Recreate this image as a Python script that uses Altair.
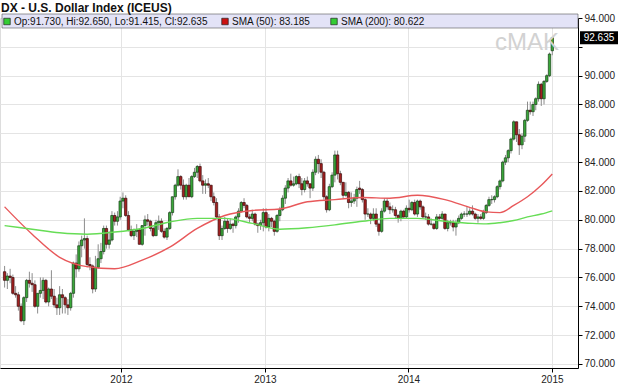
import altair as alt
import pandas as pd

# ---------------- data (weekly DX candles) ----------------
first_week = "2011-03-11"

opens_2011 = [76.4, 75.8, 76.1, 76.0, 74.9, 74.8, 74.0, 73.0, 74.6, 75.8,
              75.6, 75.5, 74.0, 74.9, 75.1, 75.8, 74.3, 75.2, 74.7, 74.1,
              73.9, 74.8, 74.6, 74.1, 73.9, 74.9, 77.0, 76.6, 78.2, 78.6,
              78.7, 76.9, 76.8, 75.2, 76.7, 77.3, 77.8, 79.4, 78.3, 78.6,
              80.3, 79.9]
highs_2011 = [76.8, 76.3, 76.6, 76.2, 75.4, 75.0, 74.2, 74.7, 75.9, 76.4,
              76.3, 75.8, 74.9, 76.0, 76.0, 75.9, 75.3, 76.5, 75.2, 74.6,
              75.4, 75.2, 74.7, 74.5, 75.0, 77.1, 77.6, 78.5, 78.9, 80.1,
              78.9, 77.4, 76.9, 77.5, 78.3, 78.4, 79.6, 79.6, 79.2, 80.6,
              80.5, 80.6]
lows_2011 = [75.3, 75.2, 75.6, 74.8, 74.6, 73.7, 72.9, 72.7, 74.3, 75.3,
             75.0, 73.9, 73.5, 74.6, 74.5, 74.2, 74.0, 74.5, 73.9, 73.4,
             73.4, 73.5, 73.5, 73.4, 73.7, 74.6, 76.0, 76.4, 77.4, 78.0,
             76.7, 76.5, 74.9, 75.0, 76.6, 77.0, 77.6, 78.0, 78.0, 78.5,
             79.6, 79.6]
closes_2011 = [75.8, 76.1, 76.0, 74.9, 74.8, 74.0, 73.0, 74.6, 75.8, 75.6,
               75.5, 74.0, 74.9, 75.1, 75.8, 74.3, 75.2, 74.7, 74.1, 73.9,
               74.8, 74.6, 74.1, 73.9, 74.9, 77.0, 76.6, 78.2, 78.6, 78.7,
               76.9, 76.8, 75.2, 76.7, 77.3, 77.8, 79.4, 78.3, 78.6, 80.3,
               79.9, 80.2]

opens_2012 = [80.2, 81.3, 81.5, 80.3, 79.3, 78.9, 79.2, 79.3, 78.3, 79.6,
              80.0, 79.9, 79.4, 78.9, 79.8, 79.9, 79.2, 78.8, 79.4, 80.5,
              81.6, 82.4, 83.0, 82.4, 81.6, 82.4, 81.6, 83.0, 83.3, 83.7,
              82.7, 82.4, 82.5, 82.4, 81.6, 81.2, 80.2, 78.9, 79.4, 79.9,
              79.4, 79.7, 79.6, 80.2, 80.6, 81.2, 81.0, 80.2, 80.1, 80.4,
              79.7, 79.6]
highs_2012 = [81.6, 81.9, 81.7, 80.6, 79.6, 79.4, 79.7, 79.4, 79.6, 80.3,
              80.4, 80.0, 79.5, 80.0, 80.3, 80.1, 79.4, 79.5, 80.6, 81.6,
              82.5, 83.5, 83.1, 82.8, 82.5, 82.9, 83.1, 83.6, 83.8, 83.9,
              83.1, 82.8, 82.9, 82.4, 81.9, 81.5, 80.4, 79.6, 80.2, 80.1,
              80.1, 79.8, 80.3, 80.8, 81.3, 81.5, 81.1, 80.4, 80.7, 80.5,
              79.8, 80.0]
lows_2012 = [80.0, 80.8, 80.2, 79.2, 78.8, 78.6, 78.8, 78.3, 78.2, 78.9,
             79.6, 79.2, 78.8, 78.9, 79.3, 79.1, 78.7, 78.6, 79.3, 80.3,
             81.4, 82.3, 82.1, 81.4, 81.4, 81.6, 81.5, 82.9, 82.9, 82.6,
             81.8, 81.8, 82.2, 81.3, 81.0, 80.1, 78.6, 78.6, 79.3, 79.1,
             79.3, 79.1, 79.4, 79.8, 80.5, 80.8, 80.1, 79.8, 79.9, 79.6,
             79.1, 79.3]
closes_2012 = [81.3, 81.5, 80.3, 79.3, 78.9, 79.2, 79.3, 78.3, 79.6, 80.0,
               79.9, 79.4, 78.9, 79.8, 79.9, 79.2, 78.8, 79.4, 80.5, 81.6,
               82.4, 83.0, 82.4, 81.6, 82.4, 81.6, 83.0, 83.3, 83.7, 82.7,
               82.4, 82.5, 82.4, 81.6, 81.2, 80.2, 78.9, 79.4, 79.9, 79.4,
               79.7, 79.6, 80.2, 80.6, 81.2, 81.0, 80.2, 80.1, 80.4, 79.7,
               79.6, 79.8]

opens_2013 = [79.8, 80.5, 79.5, 80.1, 79.9, 79.2, 80.3, 80.7, 81.5, 82.2,
              82.7, 82.4, 82.5, 83.0, 82.5, 82.1, 82.7, 82.5, 82.2, 83.3,
              84.2, 83.9, 83.3, 81.6, 80.7, 82.3, 83.1, 84.5, 83.2, 82.6,
              81.7, 81.9, 81.2, 81.3, 81.5, 82.2, 82.1, 81.4, 80.4, 80.4,
              80.1, 80.4, 79.7, 79.2, 80.6, 81.3, 80.9, 80.7, 80.7, 80.3,
              80.1, 80.6]
highs_2013 = [80.8, 80.8, 80.4, 80.2, 80.0, 80.4, 80.9, 81.7, 82.4, 82.9,
              83.2, 83.0, 83.1, 83.2, 82.9, 82.9, 83.0, 82.5, 83.5, 84.4,
              84.5, 84.2, 83.4, 81.7, 82.5, 83.3, 84.8, 84.8, 83.4, 82.6,
              82.6, 82.0, 81.9, 81.8, 82.3, 82.7, 82.2, 81.5, 80.8, 80.5,
              80.8, 80.8, 79.8, 80.8, 81.5, 81.5, 81.2, 81.0, 80.9, 80.4,
              80.7, 80.7]
lows_2013 = [79.2, 79.4, 79.2, 79.5, 78.9, 79.1, 79.9, 80.6, 81.1, 81.9,
             82.3, 82.3, 82.4, 82.2, 81.7, 81.9, 82.3, 81.5, 82.0, 83.1,
             83.2, 82.9, 81.4, 80.5, 80.6, 82.2, 82.6, 82.8, 82.4, 81.5,
             81.6, 80.8, 80.9, 81.1, 80.9, 81.8, 81.2, 80.0, 80.2, 79.7,
             79.9, 79.5, 78.9, 79.1, 80.5, 80.7, 80.4, 80.5, 80.1, 79.8,
             79.9, 80.1]
closes_2013 = [80.5, 79.5, 80.1, 79.9, 79.2, 80.3, 80.7, 81.5, 82.2, 82.7,
               82.4, 82.5, 83.0, 82.5, 82.1, 82.7, 82.5, 82.2, 83.3, 84.2,
               83.9, 83.3, 81.6, 80.7, 82.3, 83.1, 84.5, 83.2, 82.6, 81.7,
               81.9, 81.2, 81.3, 81.5, 82.1, 82.1, 81.4, 80.4, 80.4, 80.1,
               80.4, 79.7, 79.2, 80.6, 81.3, 80.9, 80.7, 80.7, 80.3, 80.1,
               80.6, 80.2]

opens_2014 = [80.2, 80.8, 80.7, 81.2, 80.4, 81.3, 80.9, 80.2, 80.2, 79.7,
              79.7, 79.4, 80.2, 80.1, 80.4, 79.4, 79.8, 79.8, 79.5, 79.8,
              80.1, 80.4, 80.4, 80.4, 80.6, 80.4, 80.1, 80.2, 80.1, 80.5,
              81.0, 81.4, 81.4, 81.6, 82.3, 82.7, 84.0, 84.3, 84.8, 85.6,
              86.8, 85.9, 85.2, 85.8, 86.9, 87.6, 87.5, 88.0, 88.4, 89.4,
              88.4, 89.6, 90.0, 91.73]
highs_2014 = [81.0, 81.4, 81.3, 81.4, 81.4, 81.4, 81.0, 80.5, 80.4, 80.1,
              79.8, 80.4, 80.4, 80.6, 80.4, 80.0, 80.0, 80.0, 80.0, 80.3,
              80.5, 80.6, 80.9, 80.8, 81.0, 80.5, 80.4, 80.4, 80.7, 81.1,
              81.6, 81.7, 81.7, 82.4, 82.8, 84.1, 84.5, 84.9, 85.7, 86.9,
              86.8, 86.3, 86.0, 87.0, 88.2, 88.2, 88.2, 88.5, 89.6, 89.5,
              89.7, 90.1, 91.6, 92.65]
lows_2014 = [80.1, 80.5, 80.6, 80.3, 80.2, 80.7, 80.1, 80.0, 79.6, 79.6,
             79.3, 79.3, 80.0, 80.0, 79.3, 79.2, 79.6, 79.2, 78.9, 79.7,
             80.0, 80.2, 80.2, 80.3, 80.3, 80.0, 79.8, 80.0, 80.0, 80.4,
             80.9, 81.1, 81.2, 81.5, 82.1, 82.6, 83.8, 84.0, 84.6, 85.5,
             85.4, 84.5, 84.9, 85.4, 86.8, 87.3, 87.2, 87.6, 88.2, 87.9,
             88.0, 89.5, 89.9, 91.415]
closes_2014 = [80.8, 80.7, 81.2, 80.4, 81.3, 80.9, 80.2, 80.2, 79.7, 79.7,
               79.4, 80.2, 80.1, 80.4, 79.4, 79.8, 79.8, 79.5, 79.8, 80.1,
               80.4, 80.4, 80.4, 80.6, 80.4, 80.1, 80.2, 80.1, 80.5, 81.0,
               81.4, 81.4, 81.6, 82.3, 82.7, 84.0, 84.3, 84.8, 85.6, 86.8,
               85.9, 85.2, 85.8, 86.9, 87.6, 87.5, 88.0, 88.4, 89.4, 88.4,
               89.6, 90.0, 91.5, 92.635]

# moving averages, read at selected candle positions
sma_idx = [0, 10, 20, 30, 40, 50, 60, 70, 80, 90, 100, 110, 120, 130, 140,
           150, 160, 170, 175, 180, 185, 190, 195, 199]
sma50 = [80.9, 79.0, 77.4, 76.75, 76.6, 77.2, 78.1, 79.4, 80.3, 80.65, 80.75,
         81.25, 81.4, 81.55, 81.5, 81.7, 81.4, 80.8, 80.55, 80.5, 81.0, 81.6,
         82.4, 83.185]
sma200 = [79.6, 79.35, 79.1, 79.0, 79.15, 79.4, 79.85, 80.1, 80.1, 79.75, 79.35,
          79.45, 79.65, 79.9, 80.1, 80.1, 79.9, 79.75, 79.72, 79.8, 79.95, 80.2,
          80.4, 80.622]

year_ticks = [2012, 2013, 2014, 2015]
price_ticks = [70, 72, 74, 76, 78, 80, 82, 84, 86, 88, 90, 92, 94]
hidden_price_label = 92   # covered by the last-price tag in the original

# ---------------- build tables ----------------
opens = opens_2011 + opens_2012 + opens_2013 + opens_2014
highs = highs_2011 + highs_2012 + highs_2013 + highs_2014
lows = lows_2011 + lows_2012 + lows_2013 + lows_2014
closes = closes_2011 + closes_2012 + closes_2013 + closes_2014
dates = pd.date_range(first_week, periods=len(closes), freq="7D").strftime("%Y-%m-%d").tolist()

df = pd.DataFrame({"date": dates, "open": opens, "high": highs, "low": lows, "close": closes})
df["dir"] = ["up" if c >= o else "down" for o, c in zip(df["open"], df["close"])]

sma_rows = []
for i, a, b in zip(sma_idx, sma50, sma200):
    sma_rows.append({"date": dates[i], "value": a, "series": "SMA50"})
    sma_rows.append({"date": dates[i], "value": b, "series": "SMA200"})
df_sma = pd.DataFrame(sma_rows)

FONT = "Liberation Sans"
W, H = 578, 350

xscale = alt.Scale(type="utc", domain=[alt.DateTime(year=2011, month=3, date=12, utc=True),
                                       alt.DateTime(year=2015, month=2, date=23, hours=17, utc=True)])
yscale = alt.Scale(domain=[69.72, 94], nice=False, zero=False)

xaxis = alt.Axis(values=[alt.DateTime(year=y, month=1, date=1, utc=True) for y in year_ticks],
                 format="%Y", formatType="utc", title=None, grid=True, gridColor="#e4e4e4",
                 tickSize=4, tickColor="#000", domainColor="#000", labelFontSize=10,
                 labelColor="#222", labelPadding=2, labelOverlap=False)
yaxis = alt.Axis(orient="right", values=price_ticks, tickCount=len(price_ticks),
                 labelExpr=f"datum.value == {hidden_price_label} ? '' : format(datum.value, '.3f')",
                 title=None, grid=True, gridColor="#e4e4e4", tickSize=4, tickColor="#000",
                 domainColor="#000", labelFontSize=10, labelColor="#222", labelPadding=2,
                 labelOverlap=False, labelBound=False, labelFlush=False)

X = alt.X("date:T", scale=xscale, axis=xaxis)

base = alt.Chart(df)
wicks = base.mark_rule(color="#8c8c8c", strokeWidth=1, clip=True).encode(
    x=X, y=alt.Y("low:Q", scale=yscale, axis=yaxis), y2="high:Q")
bodies = base.mark_bar(size=2.4, strokeWidth=0.7, clip=True).encode(
    x=X,
    y=alt.Y("open:Q", scale=yscale, axis=yaxis),
    y2="close:Q",
    fill=alt.Fill("dir:N", scale=alt.Scale(domain=["up", "down"], range=["#3aa83a", "#a32020"]), legend=None),
    stroke=alt.Stroke("dir:N", scale=alt.Scale(domain=["up", "down"], range=["#163d16", "#3a0a0a"]), legend=None),
)
lines = alt.Chart(df_sma).mark_line(interpolate="monotone", strokeWidth=1.4, clip=True).encode(
    x=X,
    y=alt.Y("value:Q", scale=yscale, axis=yaxis),
    color=alt.Color("series:N", scale=alt.Scale(domain=["SMA50", "SMA200"], range=["#e8585a", "#66dd55"]), legend=None),
)

one = pd.DataFrame({"a": [0]})

# header strip with values
strip = alt.Chart(one).mark_rect(fill="#e3e3f7", stroke="#555", strokeWidth=0.6).encode(
    x=alt.value(2), x2=alt.value(W), y=alt.value(-4), y2=alt.value(10))

legend_df = pd.DataFrame({
    "sx": [7, 225, 334],
    "tx": [14, 232, 341],
    "col": ["#33cc33", "#cc1111", "#33cc33"],
    "txt": [f"Op:{opens[-1]:.3f}, Hi:{highs[-1]:.3f}, Lo:{lows[-1]:.3f}, Cl:{closes[-1]:.3f}",
            f"SMA (50): {sma50[-1]:.3f}", f"SMA (200): {sma200[-1]:.3f}"],
})
squares = alt.Chart(legend_df).mark_square(size=42, opacity=1, stroke="#222", strokeWidth=0.7).encode(
    x=alt.X("sx:Q", scale=None), y=alt.value(3.5), fill=alt.Fill("col:N", scale=None))
legend_txt = alt.Chart(legend_df).mark_text(align="left", baseline="middle", fontSize=10,
                                             font=FONT, color="#111").encode(
    x=alt.X("tx:Q", scale=None), y=alt.value(4), text="txt:N")

title = alt.Chart(one).mark_text(text="DX - U.S. Dollar Index (ICEUS)", align="left",
                                 baseline="alphabetic", fontSize=12, fontWeight="bold",
                                 font=FONT, color="#111").encode(x=alt.value(1), y=alt.value(-6))

watermark = alt.Chart(one).mark_text(text="cMAK", align="center", baseline="alphabetic",
                                     fontSize=24, font=FONT, color="#d2d2d2").encode(
    x=alt.value(527), y=alt.value(32))

tag_df = pd.DataFrame({"v": [closes[-1]], "label": [f"{closes[-1]:.3f}"]})
tag_box = alt.Chart(tag_df).mark_point(shape="M-1,-0.34L1,-0.34L1,0.34L-1,0.34Z", size=1444,
                                       filled=True, color="#000", opacity=1).encode(
    x=alt.value(W + 21), y=alt.Y("v:Q", scale=yscale, axis=yaxis))
tag_txt = alt.Chart(tag_df).mark_text(color="white", fontSize=10, font=FONT, baseline="middle").encode(
    x=alt.value(W + 21), y=alt.Y("v:Q", scale=yscale, axis=yaxis), text="label:N")

chart = alt.layer(wicks, bodies, lines, strip, squares, legend_txt, title, watermark,
                  tag_box, tag_txt).resolve_scale(fill="independent", stroke="independent").properties(
    width=W, height=H,
    autosize=alt.AutoSizeParams(type="none"),
    padding={"left": 0, "top": 18, "right": 42, "bottom": 16},
    background="white",
).configure_view(stroke="#222", strokeWidth=1).configure(font=FONT)

chart.save("out.html", embed_options={"renderer": "svg", "actions": False})
